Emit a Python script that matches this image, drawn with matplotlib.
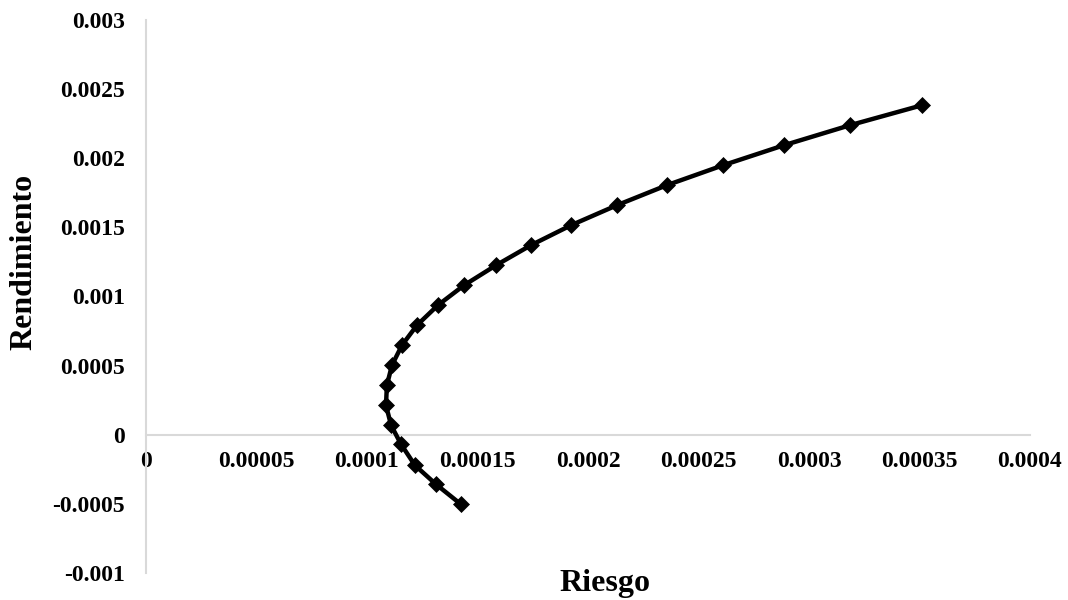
import matplotlib
matplotlib.use("Agg")
import matplotlib.pyplot as plt

riesgo = [0.0001425, 0.0001312, 0.0001217, 0.0001154, 0.0001109, 0.0001086, 0.0001090,
          0.0001113, 0.0001158, 0.0001226, 0.0001321, 0.0001439, 0.0001584, 0.0001742,
          0.0001923, 0.0002131, 0.0002357, 0.0002611, 0.0002887, 0.0003186, 0.0003511]
rendimiento = [-0.000503, -0.000358, -0.000221, -0.0000687, 0.0000687, 0.000213, 0.000358,
               0.000503, 0.000647, 0.000792, 0.000937, 0.001081, 0.001226, 0.001371,
               0.001515, 0.001660, 0.001805, 0.001949, 0.002094, 0.002239, 0.002383]

xticks = [0, 0.00005, 0.0001, 0.00015, 0.0002, 0.00025, 0.0003, 0.00035, 0.0004]
xticklabels = ["0", "0.00005", "0.0001", "0.00015", "0.0002", "0.00025", "0.0003", "0.00035", "0.0004"]
yticks = [-0.001, -0.0005, 0, 0.0005, 0.001, 0.0015, 0.002, 0.0025, 0.003]
yticklabels = ["-0.001", "-0.0005", "0", "0.0005", "0.001", "0.0015", "0.002", "0.0025", "0.003"]

plt.rcParams['font.family'] = ['Liberation Serif', 'DejaVu Serif']
plt.rcParams['font.weight'] = 'bold'

fig = plt.figure(figsize=(10.68, 6), dpi=100)
ax = fig.add_axes([0.1367, 0.045, 0.9644 - 0.1367, 0.9667 - 0.045])

ax.plot(riesgo, rendimiento, color='black', linewidth=3.2, marker='D', markersize=8.5,
        markerfacecolor='black', markeredgecolor='black', markeredgewidth=0.5,
        zorder=3, clip_on=False)

for s in ['top', 'right']:
    ax.spines[s].set_visible(False)
ax.spines['bottom'].set_position(('data', 0))
ax.spines['left'].set_position(('data', 0))
for s in ['bottom', 'left']:
    ax.spines[s].set_color('#d9d9d9')
    ax.spines[s].set_linewidth(1.5)

ax.tick_params(axis='x', length=0, pad=12, labelsize=17)
ax.tick_params(axis='y', length=0, pad=15, labelsize=17)

ax.set_xlim(0, 0.0004)
ax.set_ylim(-0.001, 0.003)
ax.set_xticks(xticks)
ax.set_xticklabels(xticklabels, fontsize=17, fontweight='bold')
ax.set_yticks(yticks)
ax.set_yticklabels(yticklabels, fontsize=17, fontweight='bold')

fig.text(0.566, 0.028, "Riesgo", fontsize=23, fontweight='bold', ha='center', va='center')
fig.text(0.0225, 0.563, "Rendimiento", fontsize=23, fontweight='bold', ha='center', va='center',
         rotation=90)

fig.savefig("out.png", dpi=100)
